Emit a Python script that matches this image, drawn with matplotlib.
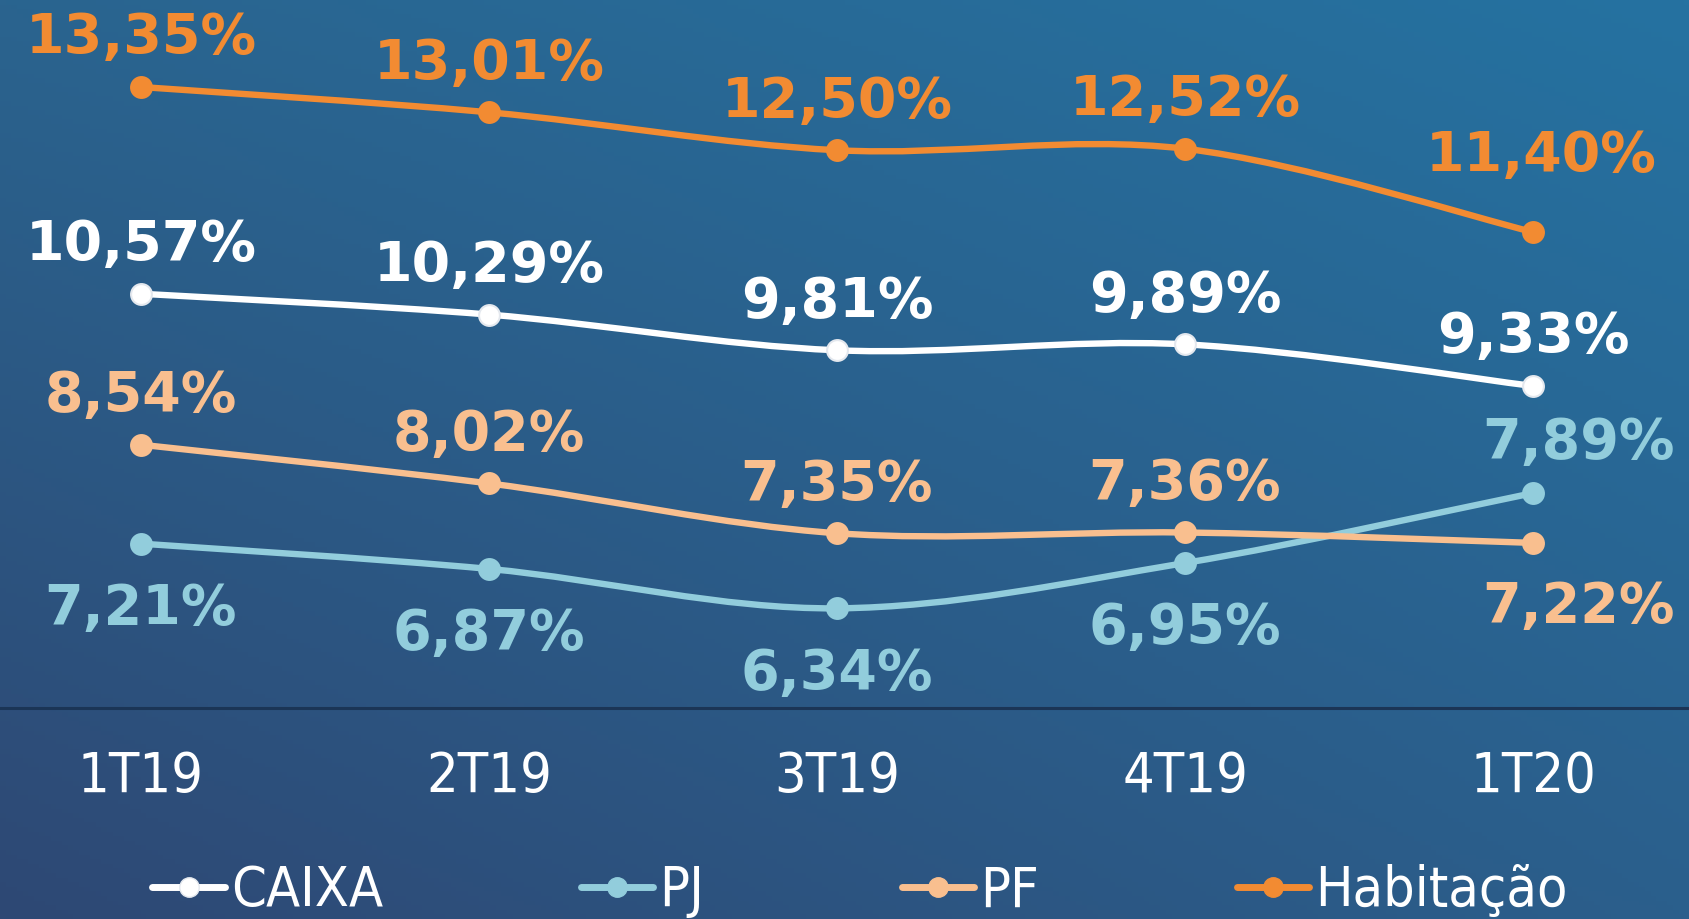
import numpy as np
import matplotlib
matplotlib.use("Agg")
import matplotlib.pyplot as plt
from matplotlib.path import Path
from matplotlib.patches import PathPatch
from matplotlib.lines import Line2D

# ---------------- data ----------------
quarters = ["1T19", "2T19", "3T19", "4T19", "1T20"]
caixa = [10.57, 10.29, 9.81, 9.89, 9.33]
pj = [7.21, 6.87, 6.34, 6.95, 7.89]
pf = [8.54, 8.02, 7.35, 7.36, 7.22]
habitacao = [13.35, 13.01, 12.50, 12.52, 11.40]
series_names = ["CAIXA", "PJ", "PF", "Habitação"]

# ---------------- styles ----------------
colors = {"CAIXA": "#FFFFFF", "PJ": "#92CDDC", "PF": "#F9BF8F", "Habitação": "#F28B32"}
edge = {"CAIXA": "#E4E8EE", "PJ": "#92CDDC", "PF": "#F9BF8F", "Habitação": "#F28B32"}
# label offsets in points (dx, dy) per series / point
off_above = (0, 35)
off_below = (0, -47)
label_offsets = {
    "CAIXA": [off_above] * 5,
    "Habitação": [off_above] * 4 + [(6, 55)],
    "PF": [off_above] * 4 + [(33, -46)],
    "PJ": [off_below] * 4 + [(33, 36)],
}

W, H = 16.9, 9.19
fig = plt.figure(figsize=(W, H), dpi=100)

# background gradient
bg = fig.add_axes([0, 0, 1, 1])
bg.axis("off")
tl = np.array([42, 100, 143]) / 255
tr = np.array([37, 114, 161]) / 255
bl = np.array([46, 72, 116]) / 255
br = np.array([43, 95, 140]) / 255
ny, nx = 200, 300
u = np.linspace(0, 1, nx)[None, :, None]
v = np.linspace(0, 1, ny)[:, None, None]
img = (1 - v) * ((1 - u) * tl + u * tr) + v * ((1 - u) * bl + u * br)
bg.imshow(img, aspect="auto", extent=[0, 1, 0, 1], origin="upper")
bg.set_xlim(0, 1)
bg.set_ylim(0, 1)

ax_bottom_px = 708
ax = fig.add_axes([0, 1 - ax_bottom_px / 919, 1, ax_bottom_px / 919])
ax.patch.set_alpha(0)
ax.set_xlim(-0.405, 4.451)
ax.set_ylim(5.0, 14.52)
for s in ["top", "left", "right"]:
    ax.spines[s].set_visible(False)
ax.spines["bottom"].set_color("#1B3556")
ax.spines["bottom"].set_linewidth(2.2)
ax.set_yticks([])
x = np.arange(len(quarters))
ax.set_xticks(x, quarters)
ax.tick_params(axis="x", length=0, pad=30, colors="white", labelsize=40)
for t in ax.get_xticklabels():
    t.set_fontstretch("condensed")


def smooth_path(xs, ys):
    pts = np.column_stack([xs, ys]).astype(float)
    ext = np.vstack([pts[0], pts, pts[-1]])
    verts = [pts[0]]
    codes = [Path.MOVETO]
    for i in range(len(pts) - 1):
        p0, p1, p2, p3 = ext[i], ext[i + 1], ext[i + 2], ext[i + 3]
        c1 = p1 + (p2 - p0) / 6.0
        c2 = p2 - (p3 - p1) / 6.0
        verts += [c1, c2, p2]
        codes += [Path.CURVE4] * 3
    return Path(verts, codes)


data = {"CAIXA": caixa, "PJ": pj, "PF": pf, "Habitação": habitacao}
order = ["PJ", "PF", "CAIXA", "Habitação"]
for name in order:
    vals = data[name]
    patch = PathPatch(smooth_path(x, vals), facecolor="none", edgecolor=colors[name],
                      lw=4.6, capstyle="round", joinstyle="round", zorder=3)
    ax.add_patch(patch)
    ax.plot(x, vals, linestyle="none", marker="o", ms=15, color=colors[name],
            mec=edge[name], mew=1.5, zorder=4)
    for i, v in enumerate(vals):
        dx, dy = label_offsets[name][i]
        ax.annotate(f"{v:.2f}%".replace(".", ","), (x[i], v), xytext=(dx, dy),
                    textcoords="offset points", ha="center", va="center",
                    fontsize=40, fontweight="bold", color=colors[name], zorder=5)

handles = [Line2D([], [], color=colors[n], lw=5, marker="o", ms=14, mec=edge[n],
                  solid_capstyle="round") for n in series_names]
leg = fig.legend(handles, series_names, ncol=4, loc="center", bbox_to_anchor=(0.509, 0.030),
                 frameon=False, handlelength=1.3, handletextpad=0.12, columnspacing=3.55,
                 prop=dict(size=40, stretch="condensed"), labelcolor="white")

fig.savefig("out.png", dpi=100)
